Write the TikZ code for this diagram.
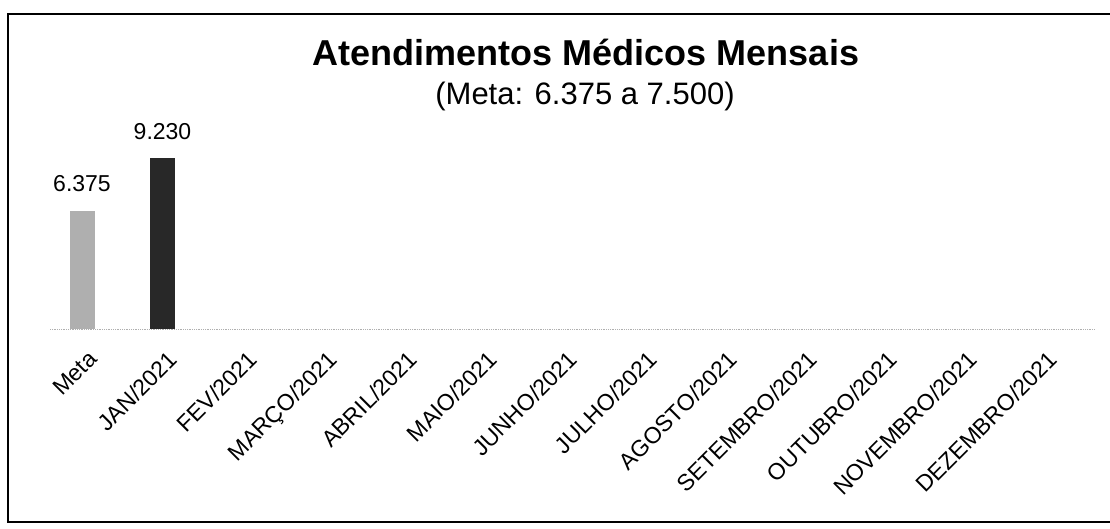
\documentclass[tikz,border=0pt]{standalone}
\usepackage{fontspec}
\setmainfont{Liberation Sans}

\definecolor{cinzameta}{RGB}{175,175,175}
\definecolor{cinzames}{RGB}{40,40,40}
\definecolor{cinzaeixo}{RGB}{175,175,175}

\begin{document}
\begin{tikzpicture}[x=1pt,y=1pt,
    valor/.style={font=\fontsize{23}{27}\selectfont, inner sep=0pt, anchor=base},
    rotulo/.style={font=\fontsize{23}{27}\selectfont, inner sep=0pt, rotate=45, anchor=north east},
    barra/.style={draw=none, minimum width=25pt, inner sep=0pt, anchor=south}]
\useasboundingbox (0,0) rectangle (1110,529);
% moldura
\draw[line width=2pt] (1112,515) -- (8,515) -- (8,7) -- (1112,7);
% titulo
\node[font=\bfseries\fontsize{36}{40}\selectfont, anchor=base] (titulo) at (586,463) {Atendimentos Médicos Mensais};
\node[font=\fontsize{31}{35}\selectfont, anchor=base] (subtitulo) at (585,424) {(Meta: 6.375 a 7.500)};
% eixo
\coordinate (eixoini) at (50,200);
\coordinate (eixofim) at (1095,200);
\draw[cinzaeixo, densely dotted, line width=0.8pt] (eixoini) -- (eixofim);
% barras
\node[barra, fill=cinzameta, minimum height=118pt] (bmeta) at (82,200) {};
\node[barra, fill=cinzames, minimum height=171pt] (bjan) at (162.5,200) {};
\node[valor] (vmeta) at ([yshift=19pt]bmeta.north) {6.375};
\node[valor] (vjan) at ([yshift=18pt]bjan.north) {9.230};
% rotulos
\foreach \mes [count=\i from 0] in {Meta, JAN/2021, FEV/2021, MARÇO/2021, ABRIL/2021, MAIO/2021, JUNHO/2021, JULHO/2021, AGOSTO/2021, SETEMBRO/2021, OUTUBRO/2021, NOVEMBRO/2021, DEZEMBRO/2021}
    \node[rotulo] (rot\i) at (87+80*\i,180) {\mes};
\end{tikzpicture}
\end{document}
